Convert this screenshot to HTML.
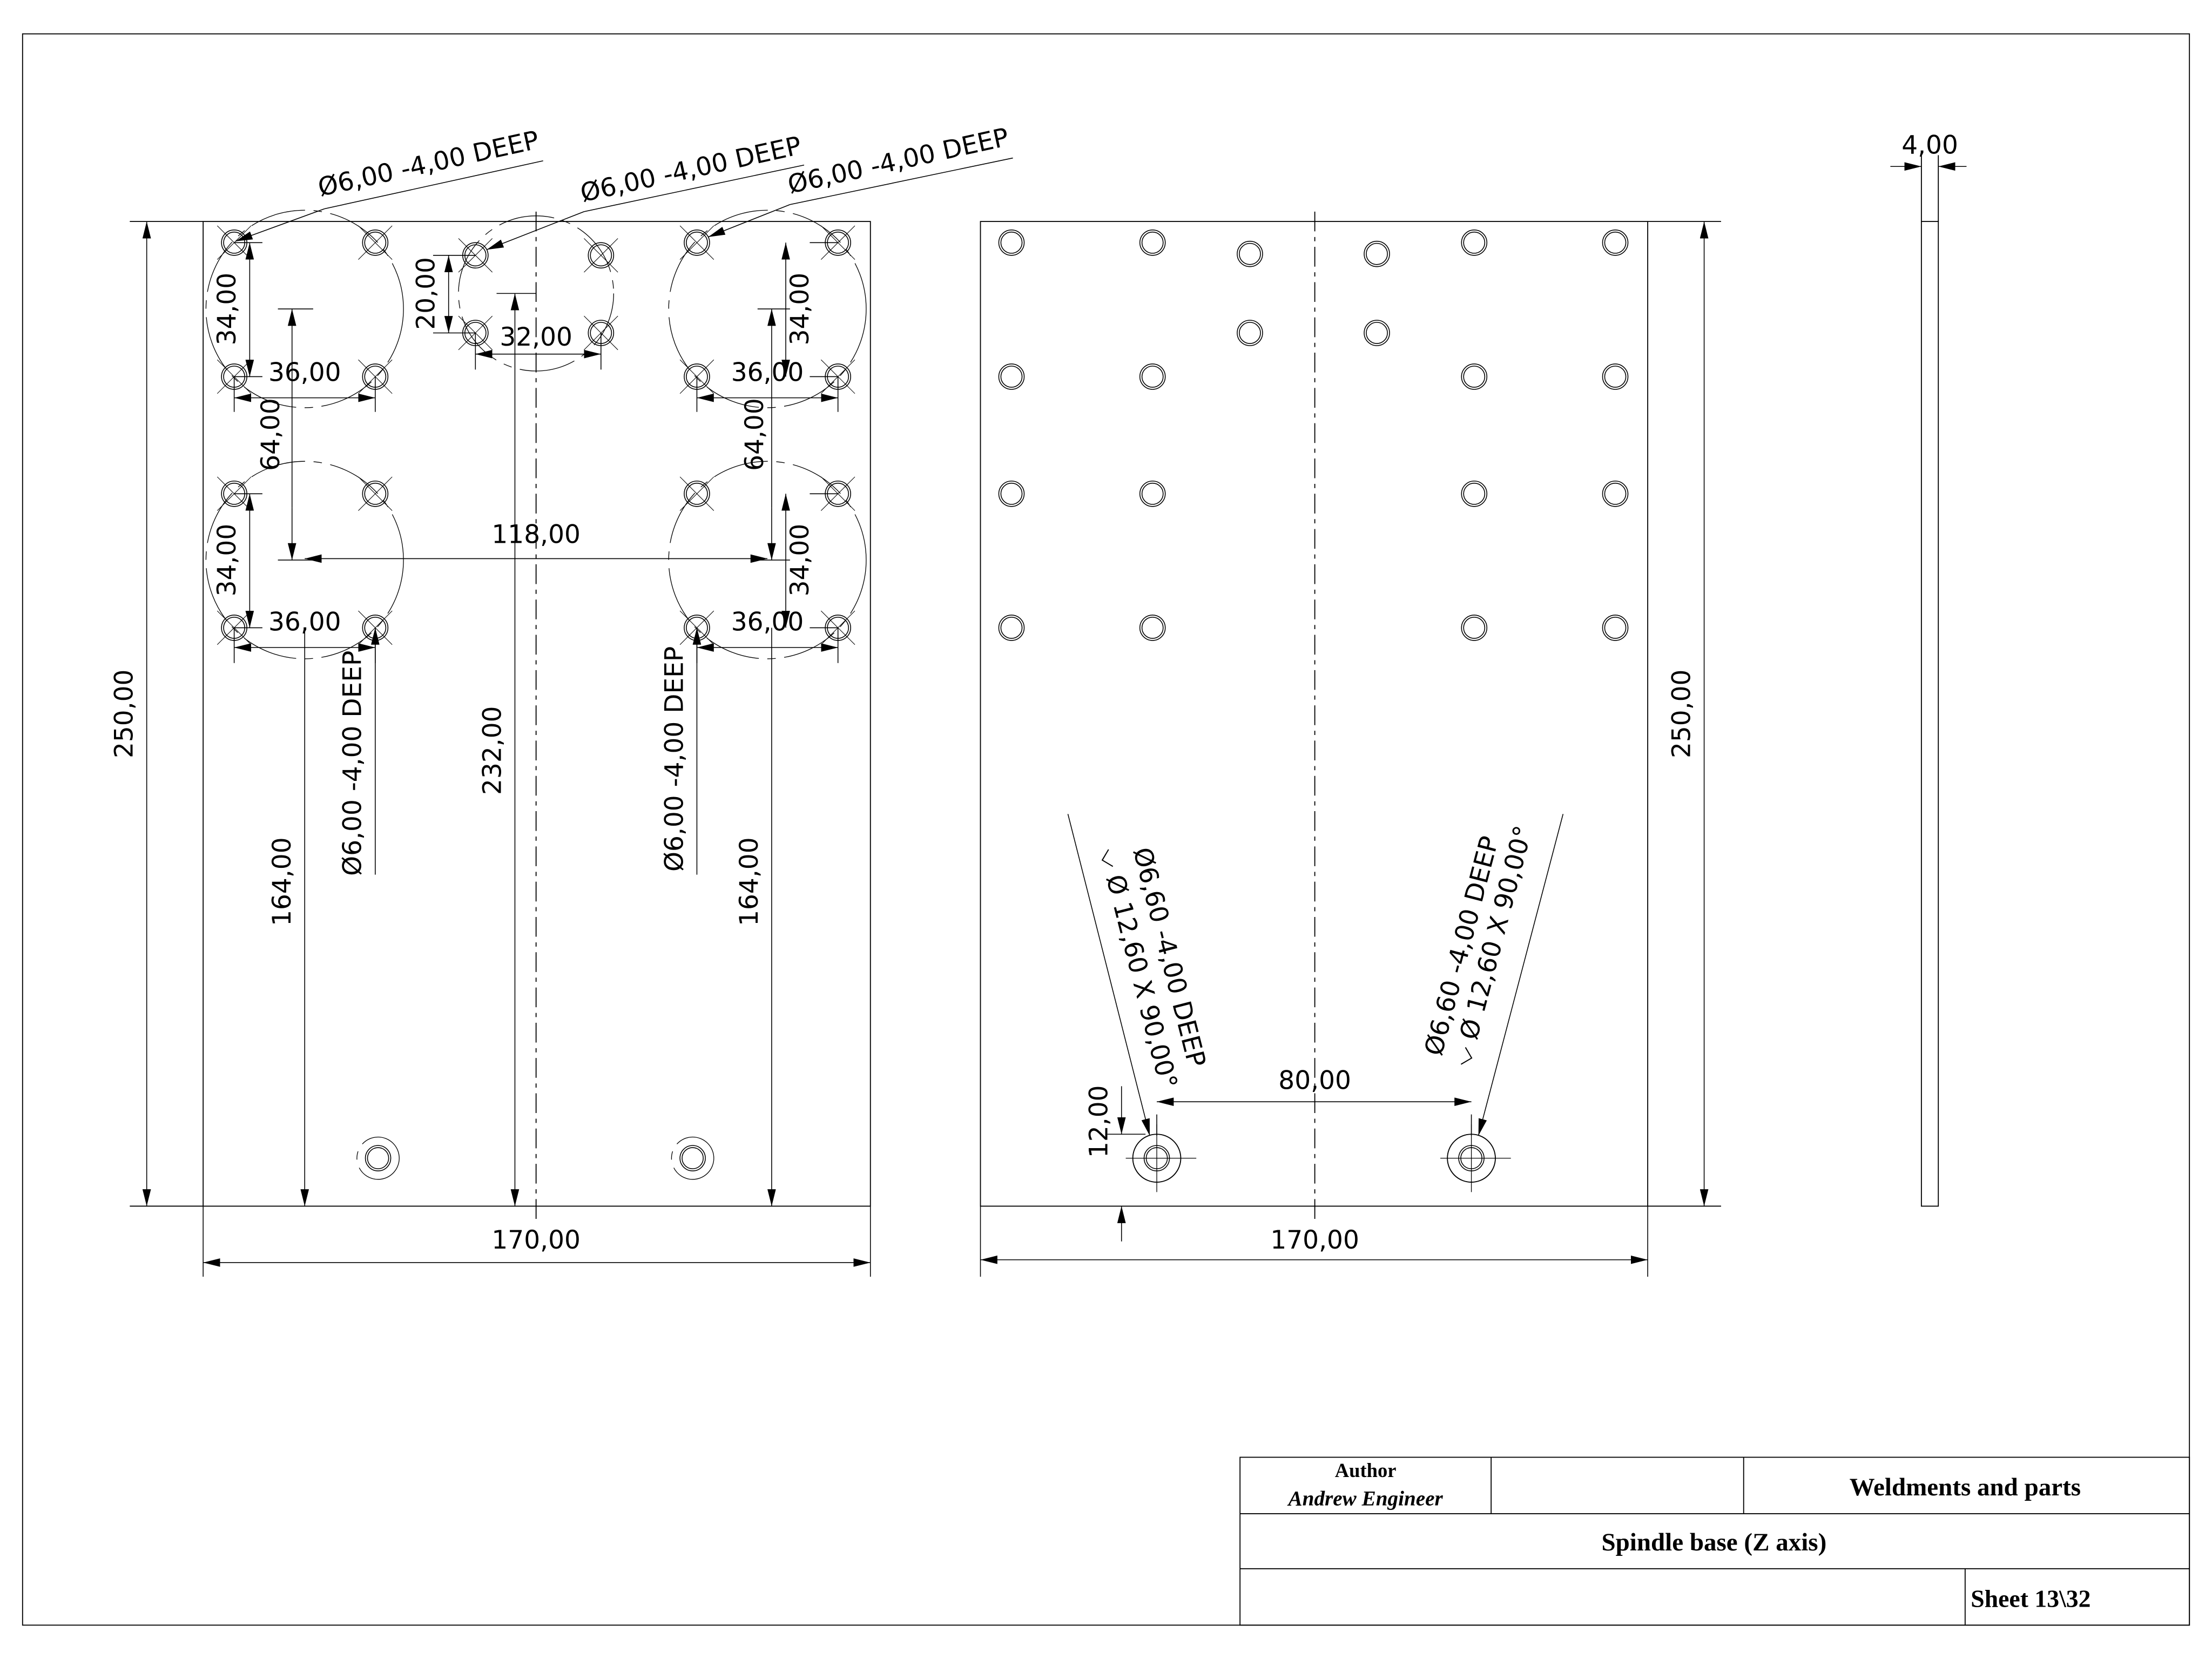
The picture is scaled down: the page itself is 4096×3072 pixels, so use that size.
<!DOCTYPE html>
<html><head><meta charset="utf-8"><style>html,body{margin:0;padding:0;background:#fff}svg{display:block}</style></head><body>
<svg xmlns="http://www.w3.org/2000/svg" width="4096" height="3072" viewBox="0 0 1568 1176">
<defs>
<marker id="a" markerWidth="12" markerHeight="6" refX="12" refY="3" orient="auto" markerUnits="userSpaceOnUse"><path d="M0,0L12,3L0,6z" fill="#000"/></marker>
<marker id="b" markerWidth="12" markerHeight="6" refX="0" refY="3" orient="auto" markerUnits="userSpaceOnUse"><path d="M12,0L0,3L12,6z" fill="#000"/></marker>
<g id="h"><circle r="9" fill="none" stroke="#000" stroke-width="0.6"/><circle r="7.5" fill="none" stroke="#000" stroke-width="0.6"/></g>
<g id="hx"><use href="#h"/><path d="M-12,-12L12,12M12,-12L-12,12" stroke="#000" stroke-width="0.4"/></g>
</defs>
<rect width="1568" height="1176" fill="#fff"/>
<g fill="none" stroke="#000" stroke-width="0.7">
<rect x="16" y="24" width="1536" height="1128"/>
<rect x="144" y="157" width="473" height="698"/>
<line x1="92" y1="157" x2="144" y2="157"/><line x1="92" y1="855" x2="144" y2="855"/>
<line x1="380" y1="150" x2="380" y2="865" stroke-dasharray="14,4,3,4"/>
<g stroke-dasharray="40,6,6,6" stroke-width="0.5">
<circle cx="216" cy="219" r="70"/><circle cx="380" cy="208" r="55"/><circle cx="544" cy="219" r="70"/><circle cx="216" cy="397" r="70"/><circle cx="544" cy="397" r="70"/>
<circle cx="268" cy="821" r="15"/><circle cx="491" cy="821" r="15"/>
</g>
<rect x="695" y="157" width="473" height="698"/>
<line x1="1168" y1="157" x2="1220" y2="157"/><line x1="1168" y1="855" x2="1220" y2="855"/>
<line x1="932" y1="150" x2="932" y2="865" stroke-dasharray="14,4,3,4"/>
<circle cx="820" cy="821" r="17"/><circle cx="1043" cy="821" r="17"/>
<path d="M798,821H848M820,797V845M1021,821H1071M1043,797V845" stroke-width="0.5"/>
<rect x="1362" y="157" width="12" height="698"/>
<line x1="1362" y1="110" x2="1362" y2="157"/><line x1="1374" y1="110" x2="1374" y2="157"/>
<rect x="879" y="1033" width="673" height="119"/>
<path d="M879,1073H1552M879,1112H1552M1057,1033V1073M1236,1033V1073M1393,1112V1152"/>
</g>
<g fill="#000"><use href="#hx" x="166" y="172"/><use href="#hx" x="266" y="172"/><use href="#hx" x="166" y="267"/><use href="#hx" x="266" y="267"/>
<use href="#hx" x="337" y="181"/><use href="#hx" x="426" y="181"/><use href="#hx" x="337" y="236"/><use href="#hx" x="426" y="236"/>
<use href="#hx" x="494" y="172"/><use href="#hx" x="594" y="172"/><use href="#hx" x="494" y="267"/><use href="#hx" x="594" y="267"/>
<use href="#hx" x="166" y="350"/><use href="#hx" x="266" y="350"/><use href="#hx" x="166" y="445"/><use href="#hx" x="266" y="445"/>
<use href="#hx" x="494" y="350"/><use href="#hx" x="594" y="350"/><use href="#hx" x="494" y="445"/><use href="#hx" x="594" y="445"/>
<use href="#h" x="268" y="821"/><use href="#h" x="491" y="821"/>
<use href="#h" x="717" y="172"/><use href="#h" x="817" y="172"/><use href="#h" x="886" y="180"/><use href="#h" x="976" y="180"/><use href="#h" x="1045" y="172"/><use href="#h" x="1145" y="172"/>
<use href="#h" x="886" y="236"/><use href="#h" x="976" y="236"/>
<use href="#h" x="717" y="267"/><use href="#h" x="817" y="267"/><use href="#h" x="1045" y="267"/><use href="#h" x="1145" y="267"/>
<use href="#h" x="717" y="350"/><use href="#h" x="817" y="350"/><use href="#h" x="1045" y="350"/><use href="#h" x="1145" y="350"/>
<use href="#h" x="717" y="445"/><use href="#h" x="817" y="445"/><use href="#h" x="1045" y="445"/><use href="#h" x="1145" y="445"/>
<use href="#h" x="820" y="821"/><use href="#h" x="1043" y="821"/>
</g>
<g stroke="#000" stroke-width="0.6" fill="none">
<line x1="104" y1="157" x2="104" y2="855" marker-start="url(#b)" marker-end="url(#a)"/>
<line x1="144" y1="855" x2="144" y2="905"/><line x1="617" y1="855" x2="617" y2="905"/>
<line x1="144" y1="895" x2="617" y2="895" marker-start="url(#b)" marker-end="url(#a)"/>
<line x1="695" y1="855" x2="695" y2="905"/><line x1="1168" y1="855" x2="1168" y2="905"/>
<line x1="695" y1="893" x2="1168" y2="893" marker-start="url(#b)" marker-end="url(#a)"/>
<line x1="1208" y1="157" x2="1208" y2="855" marker-start="url(#b)" marker-end="url(#a)"/>
<line x1="1340" y1="118" x2="1362" y2="118" marker-end="url(#a)"/><line x1="1394" y1="118" x2="1374" y2="118" marker-end="url(#a)"/>
<path d="M166,172H186M166,267H186M166,350H186M166,445H186"/>
<line x1="177" y1="172" x2="177" y2="267" marker-start="url(#b)" marker-end="url(#a)"/>
<line x1="177" y1="350" x2="177" y2="445" marker-start="url(#b)" marker-end="url(#a)"/>
<path d="M166,267V292M266,267V292M166,445V470M266,445V470"/>
<line x1="166" y1="282" x2="266" y2="282" marker-start="url(#b)" marker-end="url(#a)"/>
<line x1="166" y1="459" x2="266" y2="459" marker-start="url(#b)" marker-end="url(#a)"/>
<path d="M197,219H222M197,397H222"/>
<line x1="207" y1="260" x2="207" y2="219" marker-end="url(#a)"/><line x1="207" y1="360" x2="207" y2="397" marker-end="url(#a)"/>
<line x1="207" y1="260" x2="207" y2="360"/>
<path d="M594,172H574M594,267H574M594,350H574M594,445H574"/>
<line x1="557" y1="172" x2="557" y2="267" marker-start="url(#b)" marker-end="url(#a)"/>
<line x1="557" y1="350" x2="557" y2="445" marker-start="url(#b)" marker-end="url(#a)"/>
<path d="M494,267V292M594,267V292M494,445V470M594,445V470"/>
<line x1="494" y1="282" x2="594" y2="282" marker-start="url(#b)" marker-end="url(#a)"/>
<line x1="494" y1="459" x2="594" y2="459" marker-start="url(#b)" marker-end="url(#a)"/>
<path d="M537,219H560M537,397H560"/>
<line x1="547" y1="260" x2="547" y2="219" marker-end="url(#a)"/><line x1="547" y1="360" x2="547" y2="397" marker-end="url(#a)"/>
<line x1="547" y1="260" x2="547" y2="360"/>
<path d="M307,181H337M307,236H337"/>
<line x1="318" y1="181" x2="318" y2="236" marker-start="url(#b)" marker-end="url(#a)"/>
<path d="M337,236V262M426,236V262"/>
<line x1="337" y1="251" x2="426" y2="251" marker-start="url(#b)" marker-end="url(#a)"/>
<path d="M352,208H380"/>
<line x1="216" y1="396" x2="544" y2="396" marker-start="url(#b)" marker-end="url(#a)"/>
<line x1="216" y1="445" x2="216" y2="855" marker-end="url(#a)"/>
<line x1="547" y1="445" x2="547" y2="855" marker-end="url(#a)"/>
<line x1="365" y1="250" x2="365" y2="208" marker-end="url(#a)"/>
<line x1="365" y1="250" x2="365" y2="855" marker-end="url(#a)"/>
<line x1="266" y1="620" x2="266" y2="445" marker-end="url(#a)"/>
<line x1="494" y1="620" x2="494" y2="445" marker-end="url(#a)"/>
<path d="M385,114L230,148"/><line x1="230" y1="148" x2="167" y2="171" marker-end="url(#a)"/>
<path d="M570,117L414,150"/><line x1="414" y1="150" x2="345" y2="177" marker-end="url(#a)"/>
<path d="M718,112L560,145"/><line x1="560" y1="145" x2="502" y2="168" marker-end="url(#a)"/>
<path d="M820,805V790M1043,805V790"/>
<line x1="820" y1="781" x2="1043" y2="781" marker-start="url(#b)" marker-end="url(#a)"/>
<path d="M785,804H812"/>
<line x1="795" y1="770" x2="795" y2="804" marker-end="url(#a)"/>
<line x1="795" y1="880" x2="795" y2="855" marker-end="url(#a)"/>
<line x1="757" y1="577" x2="815" y2="805" marker-end="url(#a)"/>
<line x1="1108" y1="577" x2="1048" y2="805" marker-end="url(#a)"/>
</g>
<g font-family="'DejaVu Sans','Liberation Sans',sans-serif" font-size="18" text-anchor="middle" fill="#000">
<text x="380" y="885">170,00</text><text x="932" y="885">170,00</text>
<text transform="translate(94,506) rotate(-90)">250,00</text>
<text transform="translate(1198,506) rotate(-90)">250,00</text>
<text x="1368" y="109">4,00</text>
<text transform="translate(167,219) rotate(-90)">34,00</text>
<text transform="translate(167,397) rotate(-90)">34,00</text>
<text transform="translate(198,308) rotate(-90)">64,00</text>
<text x="216" y="270">36,00</text><text x="216" y="447">36,00</text>
<text transform="translate(573,219) rotate(-90)">34,00</text>
<text transform="translate(573,397) rotate(-90)">34,00</text>
<text transform="translate(541,308) rotate(-90)">64,00</text>
<text x="544" y="270">36,00</text><text x="544" y="447">36,00</text>
<text transform="translate(308,208) rotate(-90)">20,00</text>
<text x="380" y="245">32,00</text>
<text x="380" y="385">118,00</text>
<text transform="translate(206,625) rotate(-90)">164,00</text>
<text transform="translate(537,625) rotate(-90)">164,00</text>
<text transform="translate(355,532) rotate(-90)">232,00</text>
<text transform="translate(256,541) rotate(-90)">Ø6,00 -4,00 DEEP</text>
<text transform="translate(484,538) rotate(-90)">Ø6,00 -4,00 DEEP</text>
<text transform="translate(305,122) rotate(-12.4)">Ø6,00 -4,00 DEEP</text>
<text transform="translate(491,126) rotate(-12.4)">Ø6,00 -4,00 DEEP</text>
<text transform="translate(638,120) rotate(-12.4)">Ø6,00 -4,00 DEEP</text>
<text x="932" y="772">80,00</text>
<text transform="translate(785,795) rotate(-90)">12,00</text>
<text transform="translate(823,680) rotate(75.7)">Ø6,60 -4,00 DEEP</text>
<text transform="translate(801,688) rotate(75.7)">⌵ Ø 12,60 X 90,00°</text>
<text transform="translate(1042,672) rotate(-75.3)">Ø6,60 -4,00 DEEP</text>
<text transform="translate(1064,672) rotate(-75.3)">⌵ Ø 12,60 X 90,00°</text>
</g>
<g font-family="'Liberation Serif',serif" font-weight="bold" font-size="16" fill="#000" text-anchor="middle">
<text x="968" y="1047" font-size="14">Author</text>
<text x="968" y="1067" font-size="15" font-style="italic">Andrew Engineer</text>
<text x="1393" y="1060" font-size="18">Weldments and parts</text>
<text x="1215" y="1099" font-size="18">Spindle base (Z axis)</text>
<text x="1397" y="1139" text-anchor="start" font-size="17.5">Sheet  13\32</text>
</g>
</svg>
</body></html>
